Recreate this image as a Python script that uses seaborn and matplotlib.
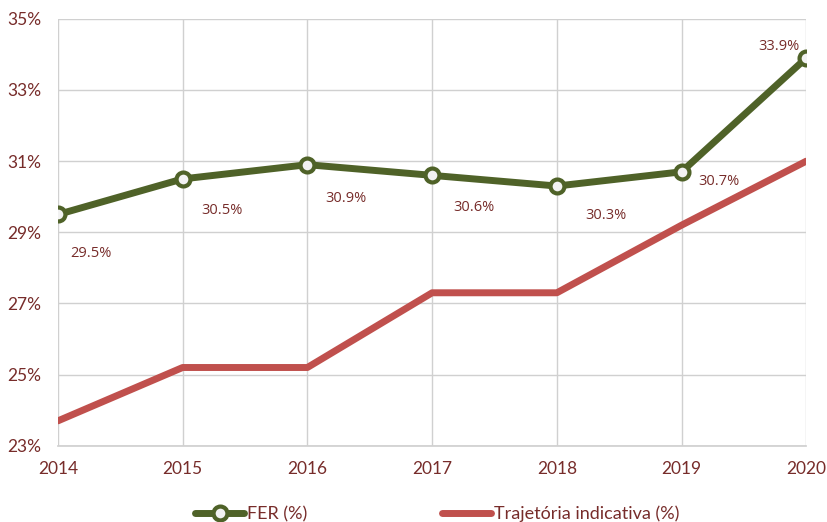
import matplotlib
matplotlib.use("Agg")
import matplotlib.pyplot as plt
import seaborn as sns
import pandas as pd
from matplotlib.ticker import FuncFormatter

years = [2014, 2015, 2016, 2017, 2018, 2019, 2020]
fer = [29.5, 30.5, 30.9, 30.6, 30.3, 30.7, 33.9]
trajetoria = [23.7, 25.2, 25.2, 27.3, 27.3, 29.2, 31.0]
fer_label = "FER (%)"
traj_label = "Trajetória indicativa (%)"

GREEN = "#4F6228"
RED = "#C0504D"
TEXT = "#772C2A"
GRID = "#D0D0D0"

sns.set_theme(style="white")
plt.rcParams['font.family'] = ['Lato', 'DejaVu Sans']

df = pd.DataFrame({"Ano": years, fer_label: fer, traj_label: trajetoria})

fig, ax = plt.subplots(figsize=(8.27, 5.22), dpi=100)
fig.subplots_adjust(left=0.070, right=0.975, top=0.964, bottom=0.146)

sns.lineplot(data=df, x="Ano", y=traj_label, ax=ax, color=RED, linewidth=5,
             label=traj_label, solid_capstyle="round", zorder=3)
sns.lineplot(data=df, x="Ano", y=fer_label, ax=ax, color=GREEN, linewidth=5,
             marker="o", markersize=10, markerfacecolor="#F2F2F2",
             markeredgecolor=GREEN, markeredgewidth=3, label=fer_label, zorder=4)

# data labels for the FER series
offsets = [(24, -28), (28, -23), (28, -24), (30, -23), (35, -21), (27, -7), (-20, 8)]
for x, v, off in zip(years, fer, offsets):
    ax.annotate(f"{v:.1f}%", (x, v), xytext=off, textcoords="offset points",
                ha="center", va="center", fontsize=10.5, color=TEXT,
                family=["Open Sans", "DejaVu Sans"])

ax.set_xlim(2014, 2020)
ax.set_ylim(23, 35)
ax.set_xticks(years)
ax.set_yticks(range(23, 36, 2))
ax.yaxis.set_major_formatter(FuncFormatter(lambda v, p: f"{v:.0f}%"))
ax.grid(True, color=GRID, linewidth=1)
ax.set_axisbelow(True)
for side in ["top", "right", "left"]:
    ax.spines[side].set_visible(False)
ax.spines["bottom"].set_color(GRID)
ax.tick_params(axis="both", colors=TEXT, labelsize=12.5, length=0)
ax.tick_params(axis="x", pad=11)
ax.tick_params(axis="y", pad=12)
ax.set_xlabel("")
ax.set_ylabel("")

handles, labels = ax.get_legend_handles_labels()
order = [labels.index(fer_label), labels.index(traj_label)]
ax.legend([handles[i] for i in order], [labels[i] for i in order],
          loc="center", bbox_to_anchor=(0.507, -0.159), ncol=2,
          frameon=False, fontsize=13, handlelength=2.7, handletextpad=0.15,
          columnspacing=7.5, labelcolor=TEXT, borderaxespad=0)

plt.savefig("out.png", dpi=100)
plt.close()
